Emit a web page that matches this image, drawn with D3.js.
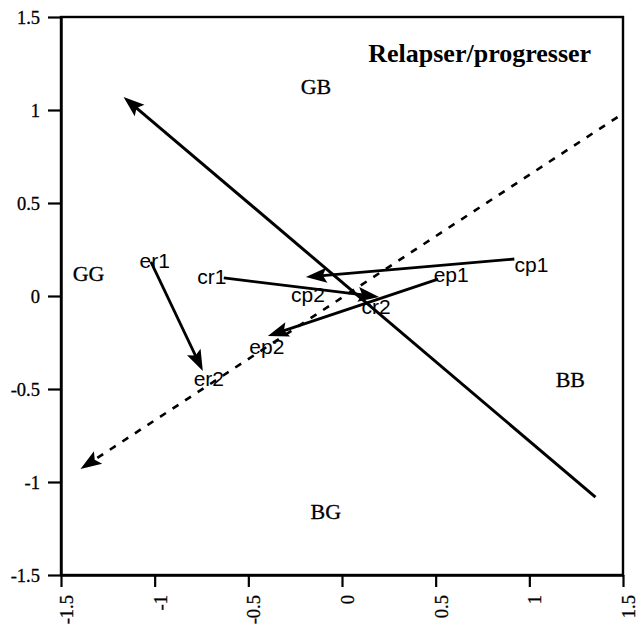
<!DOCTYPE html>
<html>
<head>
<meta charset="utf-8">
<script src="https://cdn.jsdelivr.net/npm/d3@7"></script>
<style>
  html, body { margin: 0; padding: 0; background: #fff; }
  svg { display: block; }
</style>
</head>
<body>
<svg id="chart" width="638" height="631"></svg>
<script>
// Axis ticks
const tickValues = [-1.5, -1, -0.5, 0, 0.5, 1, 1.5];
const tickLabels = ["-1.5", "-1", "-0.5", "0", "0.5", "1", "1.5"];

// Group positions (arrow endpoints)
const stateNames = ["er1", "er2", "cr1", "cr2", "cp1", "cp2", "ep1", "ep2"];
const stateX = [-1.02, -0.743, -0.631, 0.198, 0.92, -0.193, 0.513, -0.396];
const stateY = [0.183, -0.403, 0.097, -0.005, 0.199, 0.102, 0.091, -0.215];

// Where each group name is written
const labelX = [-1.0, -0.711, -0.695, 0.182, 1.011, -0.182, 0.583, -0.401];
const labelY = [0.188, -0.446, 0.102, -0.059, 0.167, 0.005, 0.113, -0.274];

// Movements between the first and second time point
const moveFrom = ["er1", "cr1", "cp1", "ep1"];
const moveTo = ["er2", "cr2", "cp2", "ep2"];

// Reference directions: [x0, y0, x1, y1], arrow at the second end
const solidAxis = [1.353, -1.081, -1.166, 1.07];
const dashedAxis = [1.471, 0.962, -1.396, -0.93];

// Quadrant names
const regionNames = ["GB", "GG", "BB", "BG"];
const regionX = [-0.139, -1.353, 1.219, -0.086];
const regionY = [1.129, 0.124, -0.446, -1.156];

const titleText = "Relapser/progresser";

const svg = d3.select("#chart");
const m = { left: 61, right: 623, top: 17, bottom: 575 };

const x = d3.scaleLinear().domain([-1.5, 1.5]).range([m.left, m.right]);
const y = d3.scaleLinear().domain([-1.5, 1.5]).range([m.bottom, m.top]);

const serif = "'Liberation Serif', 'Times New Roman', serif";
const sans = "'Liberation Sans', Arial, Helvetica, sans-serif";

// Frame
svg.append("rect")
  .attr("x", m.left).attr("y", m.top)
  .attr("width", m.right - m.left).attr("height", m.bottom - m.top)
  .attr("fill", "none").attr("stroke", "#000").attr("stroke-width", 2.4);

// Axes
const fmt = d => tickLabels[tickValues.indexOf(d)];
const yAxis = svg.append("g").attr("transform", `translate(${m.left},0)`)
  .call(d3.axisLeft(y).tickValues(tickValues).tickFormat(fmt)
    .tickSize(13).tickSizeOuter(0).tickPadding(8));
const xAxis = svg.append("g").attr("transform", `translate(0,${m.bottom})`)
  .call(d3.axisBottom(x).tickValues(tickValues).tickFormat(fmt)
    .tickSize(12).tickSizeOuter(0).tickPadding(8));

[yAxis, xAxis].forEach(g => {
  g.select(".domain").attr("stroke-width", 2.4);
  g.selectAll(".tick line").attr("stroke-width", 2.2);
  g.selectAll(".tick text")
    .attr("font-family", serif).attr("font-size", 18.5).attr("fill", "#000")
    .attr("stroke", "#000").attr("stroke-width", 0.3);
});
yAxis.selectAll(".tick text").attr("x", -21).attr("dy", "0.35em");
xAxis.selectAll(".tick text")
  .attr("transform", "rotate(-90)")
  .attr("x", -20).attr("y", 5).attr("dy", "0.35em")
  .attr("text-anchor", "end");

// A line ending in a filled, slightly notched arrowhead
const marks = svg.append("g");
function arrow(x0, y0, x1, y1, dashed, width) {
  const px0 = x(x0), py0 = y(y0), px1 = x(x1), py1 = y(y1);
  const len = Math.hypot(px1 - px0, py1 - py0);
  const k = (len - 14) / len;
  marks.append("line")
    .attr("x1", px0).attr("y1", py0)
    .attr("x2", px0 + (px1 - px0) * k).attr("y2", py0 + (py1 - py0) * k)
    .attr("stroke", "#000").attr("stroke-width", width)
    .attr("stroke-dasharray", dashed ? "7,8" : null);
  const ang = Math.atan2(py1 - py0, px1 - px0) * 180 / Math.PI;
  marks.append("path")
    .attr("d", "M0,0 L-21,-7.5 L-17,0 L-21,7.5 Z")
    .attr("transform", `translate(${px1},${py1}) rotate(${ang})`)
    .attr("fill", "#000");
}

arrow(...solidAxis, false, 3);
arrow(...dashedAxis, true, 2.6);

moveFrom.forEach((from, i) => {
  const a = stateNames.indexOf(from), b = stateNames.indexOf(moveTo[i]);
  arrow(stateX[a], stateY[a], stateX[b], stateY[b], false, 2.8);
});

// Group names
svg.append("g").selectAll("text").data(stateNames).join("text")
  .attr("x", (d, i) => x(labelX[i]))
  .attr("y", (d, i) => y(labelY[i]))
  .attr("dy", "0.35em")
  .attr("text-anchor", "middle")
  .attr("font-family", sans).attr("font-size", 21).attr("fill", "#000")
  .text(d => d);

// Quadrant names
svg.append("g").selectAll("text").data(regionNames).join("text")
  .attr("x", (d, i) => x(regionX[i]))
  .attr("y", (d, i) => y(regionY[i]))
  .attr("dy", "0.35em")
  .attr("text-anchor", "middle")
  .attr("font-family", serif).attr("font-size", 22).attr("fill", "#000")
  .attr("stroke", "#000").attr("stroke-width", 0.3)
  .text(d => d);

// Title inside the plot
svg.append("text")
  .attr("x", x(1.33)).attr("y", y(1.258))
  .attr("text-anchor", "end")
  .attr("font-family", serif).attr("font-weight", "bold").attr("font-size", 26)
  .attr("fill", "#000")
  .text(titleText);
</script>
</body>
</html>
